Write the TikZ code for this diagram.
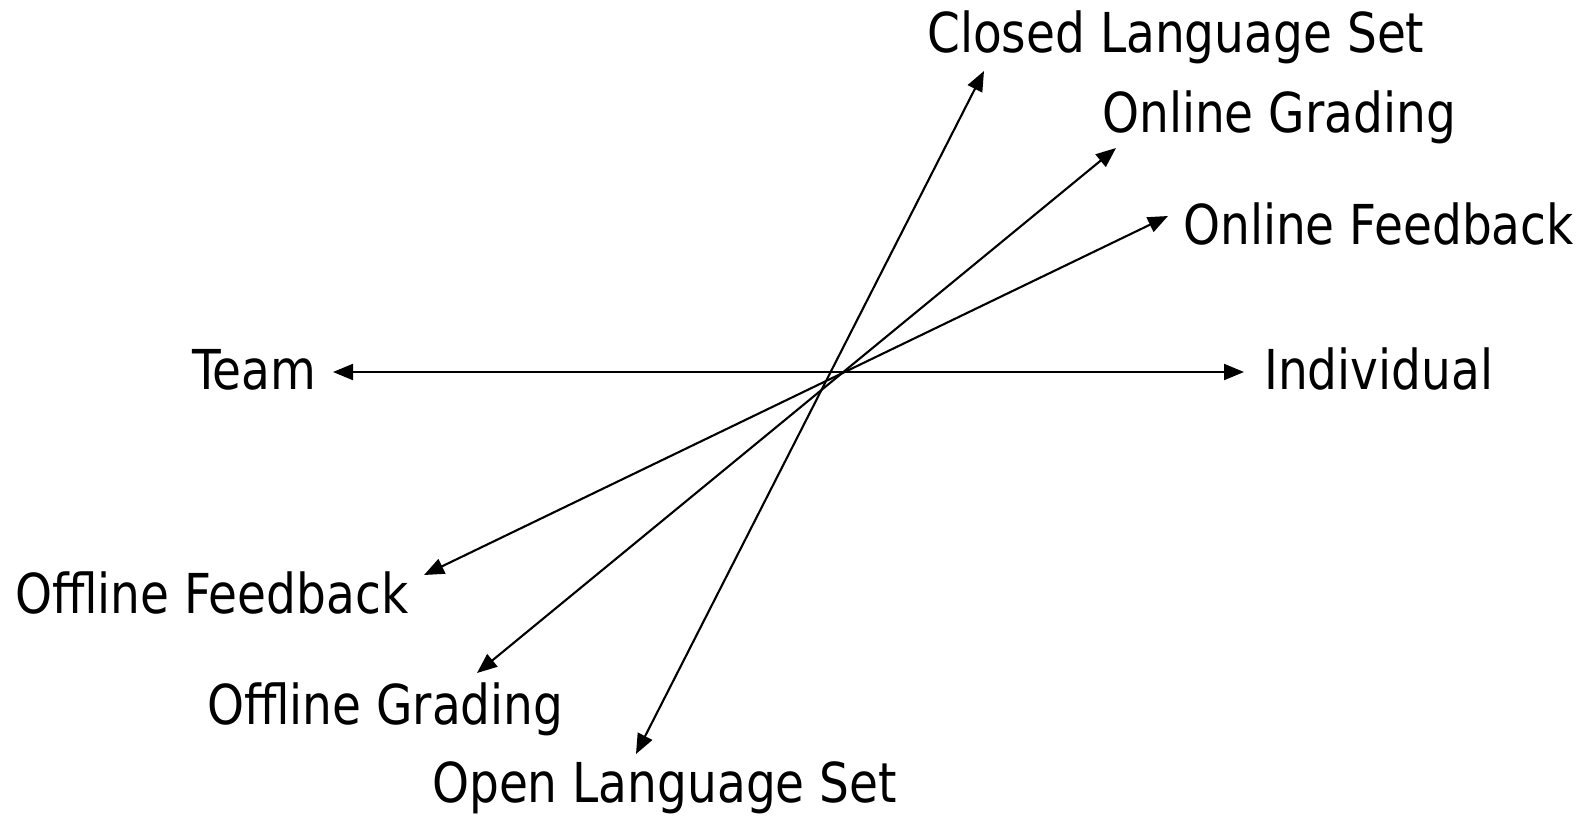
\documentclass[tikz,border=0pt]{standalone}
\usepackage{fontspec}
\setmainfont{DejaVu Sans}[FakeStretch=0.855]
\usetikzlibrary{arrows.meta}
\begin{document}
\begin{tikzpicture}[x=1pt,y=-1pt,
  lbl/.style={anchor=base west,inner sep=0pt,font=\fontsize{55}{66}\selectfont},
  axis/.style={line width=2.1pt,{Triangle[length=20pt,width=16pt]}-{Triangle[length=20pt,width=16pt]}}]
\useasboundingbox (0,0) rectangle (1583,815);
% labels
\node[lbl] (closed) at (927,52) {Closed Language Set};
\node[lbl] (ongrad) at (1102,132) {Online Grading};
\node[lbl] (onfeed) at (1183,244) {Online Feedback};
\node[lbl] (indiv) at (1264,389) {Individual};
\node[lbl] (team) at (192,389) {Team};
\node[lbl] (offfeed) at (15,613) {Offline Feedback};
\node[lbl] (offgrad) at (207,724) {Offline Grading};
\node[lbl] (open) at (432,802) {Open Language Set};
% arrow tips
\coordinate (tClosed) at (984,71);
\coordinate (tOpen) at (636,754);
\coordinate (tOnGrad) at (1116,148);
\coordinate (tOffGrad) at (477,673);
\coordinate (tOnFeed) at (1168,216);
\coordinate (tOffFeed) at (424,575);
\coordinate (tIndiv) at (1244,372);
\coordinate (tTeam) at (333,372);
% connectors
\draw[axis] (tTeam) -- (tIndiv);
\draw[axis] (tOpen) -- (tClosed);
\draw[axis] (tOffGrad) -- (tOnGrad);
\draw[axis] (tOffFeed) -- (tOnFeed);
\end{tikzpicture}
\end{document}
